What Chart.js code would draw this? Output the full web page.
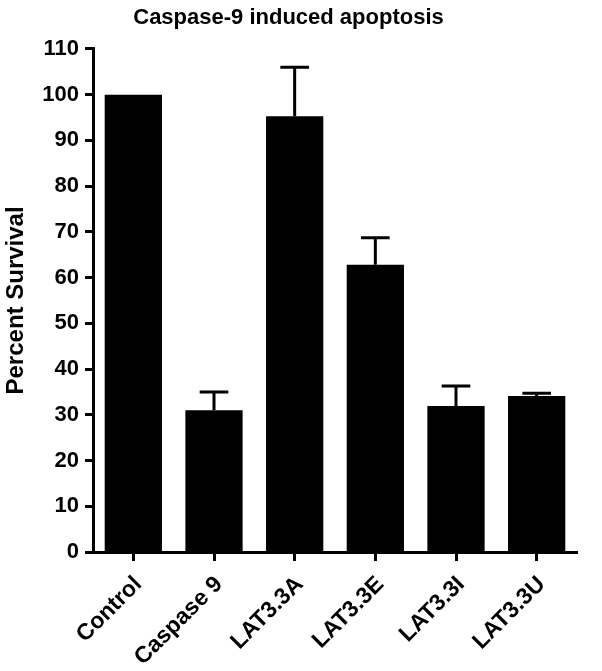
<!DOCTYPE html>
<html>
<head>
<meta charset="utf-8">
<script src="https://cdn.jsdelivr.net/npm/chart.js@4"></script>
<style>
html,body{margin:0;padding:0;background:#fff;}
#wrap{width:602px;height:671px;}
</style>
</head>
<body>
<div id="wrap"><canvas id="c" width="602" height="671"></canvas></div>
<script>
const categories = ['Control', 'Caspase 9', 'LAT3.3A', 'LAT3.3E', 'LAT3.3I', 'LAT3.3U'];
const survival = [100, 31.0, 95.3, 62.8, 31.9, 34.1];
const errorUpper = [0, 4.0, 10.7, 5.9, 4.4, 0.6];
const yTicks = [0, 10, 20, 30, 40, 50, 60, 70, 80, 90, 100, 110];

const FONT = "'Liberation Sans', Arial, sans-serif";

const errorBars = {
  id: 'errorBars',
  afterDatasetsDraw(chart) {
    const ctx = chart.ctx;
    const meta = chart.getDatasetMeta(0);
    const y = chart.scales.y;
    ctx.save();
    ctx.strokeStyle = '#000';
    ctx.lineWidth = 3;
    meta.data.forEach((bar, i) => {
      const e = errorUpper[i];
      if (!e) return;
      const top = y.getPixelForValue(survival[i] + e);
      const base = y.getPixelForValue(survival[i]);
      const half = bar.width / 4;
      ctx.beginPath();
      ctx.moveTo(bar.x, base);
      ctx.lineTo(bar.x, top);
      ctx.moveTo(bar.x - half, top);
      ctx.lineTo(bar.x + half, top);
      ctx.stroke();
    });
    ctx.restore();
  }
};

new Chart(document.getElementById('c'), {
  type: 'bar',
  data: {
    labels: categories,
    datasets: [{
      data: survival,
      backgroundColor: '#000',
      borderWidth: 0,
      categoryPercentage: 1,
      barPercentage: 0.71
    }]
  },
  options: {
    responsive: false,
    animation: false,
    devicePixelRatio: 1,
    layout: { padding: { left: 0, right: 25, top: 0, bottom: 0 } },
    plugins: {
      legend: { display: false },
      tooltip: { enabled: false },
      title: {
        display: true,
        text: 'Caspase-9 induced apoptosis',
        color: '#000',
        font: { family: FONT, size: 22, weight: 'bold' },
        padding: { top: 5, bottom: 17.5 }
      }
    },
    scales: {
      x: {
        afterFit(scale) { scale.height = 119; },
        border: { display: true, color: '#000', width: 3 },
        grid: { display: true, drawOnChartArea: false, offset: false, tickLength: 9, tickColor: '#000', tickWidth: 3 },
        ticks: {
          color: '#000',
          font: { family: FONT, size: 23, weight: 'bold' },
          maxRotation: 45,
          minRotation: 45,
          padding: 10,
          labelOffset: 5
        }
      },
      y: {
        min: 0,
        max: 110,
        afterFit(scale) { scale.width = 93; },
        afterBuildTicks(scale) { scale.ticks = yTicks.map(v => ({ value: v })); },
        border: { display: true, color: '#000', width: 3 },
        grid: { display: true, drawOnChartArea: false, tickLength: 8, tickColor: '#000', tickWidth: 3 },
        ticks: {
          color: '#000',
          font: { family: FONT, size: 22, weight: 'bold' },
          padding: 6
        },
        title: {
          display: true,
          text: 'Percent Survival',
          color: '#000',
          font: { family: FONT, size: 24, weight: 'bold' },
          padding: { top: 2, bottom: 0 }
        }
      }
    }
  },
  plugins: [errorBars]
});
</script>
</body>
</html>
